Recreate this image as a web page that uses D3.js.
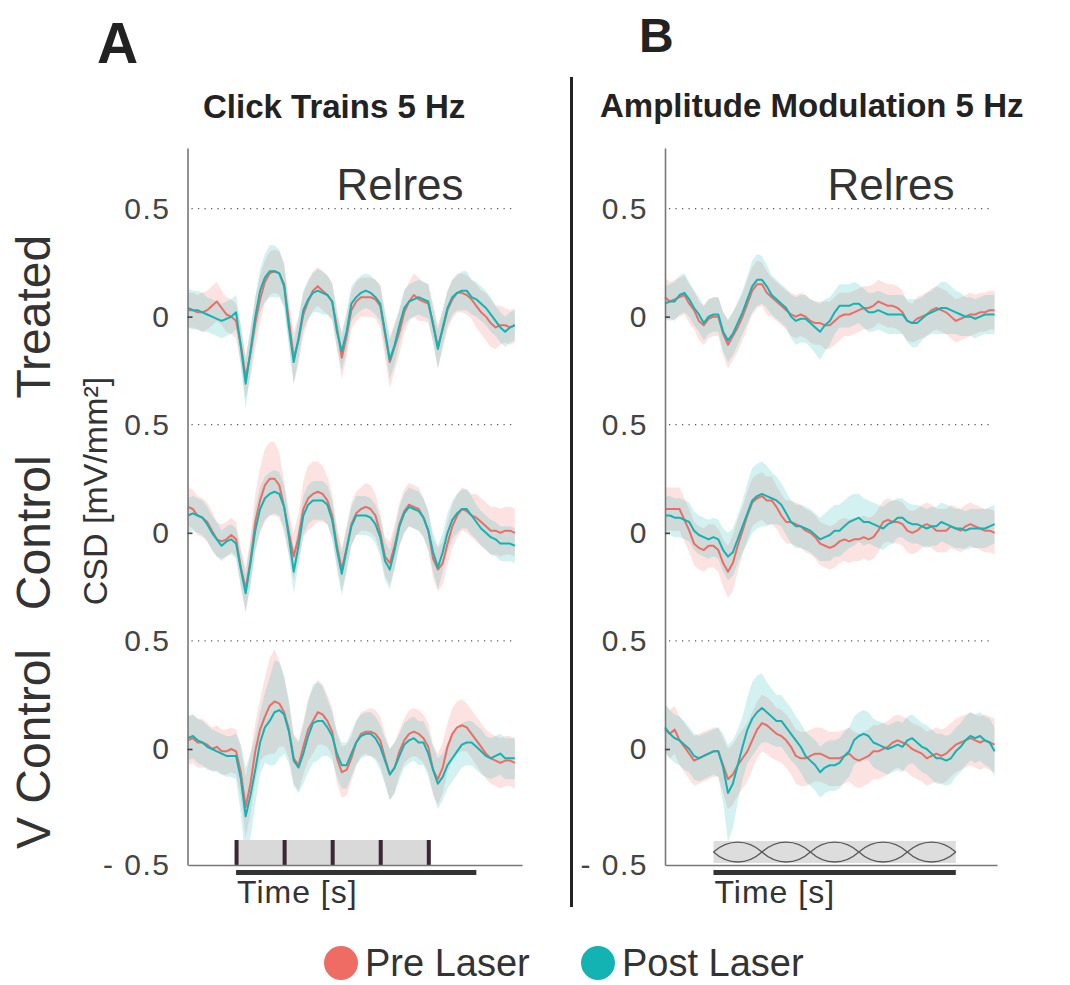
<!DOCTYPE html>
<html>
<head>
<meta charset="utf-8">
<script src="https://cdn.jsdelivr.net/npm/d3@7"></script>
<style>
  body { margin: 0; background: #fff; }
  svg { display: block; font-family: "Liberation Sans", Arial, sans-serif; }
</style>
</head>
<body>
<div id="chart"></div>
<script>
// Traces are sampled every 20 ms from -0.2 s to 1.16 s, values in 0.01 mV/mm²
const sampleStart = -0.2;
const sampleStep = 0.02;
const rowNames = ["Treated", "Control", "V Control"];
const clickTimes = [0, 0.2, 0.4, 0.6, 0.8];
const amCycleStarts = [0, 0.2, 0.4, 0.6, 0.8];
const amCycleLength = 0.2;
const stimulusEnd = 1.0;
const legendLabels = ["Pre Laser", "Post Laser"];

// Click trains 5 Hz
const clickTreatedPre = [3,3,2,2,3,5,7,4,1,0, -2,-13,-28,-17,-3,8,16,20,21,20, 15,-2,-19,-11,1,7,12,14,12,10, 7,-5,-19,-9,3,7,9,9,9,8, 5,-8,-21,-14,-7,2,7,10,8,7, 6,-3,-14,-6,3,8,11,11,10,8, 5,2,0,-3,-5,-4,-4,-5,-4];
const clickTreatedPost = [4,3,3,2,1,0,-1,-2,-1,0, 2,-14,-31,-16,0,12,18,21,21,20, 14,-5,-21,-10,3,8,11,12,11,10, 7,-7,-16,-7,6,9,11,12,11,9, 6,-7,-20,-13,-4,4,7,8,9,8, 7,-4,-15,-5,4,9,11,12,12,9, 8,6,4,1,-2,-5,-7,-5,-4];
const clickControlPre = [12,11,8,7,5,1,-3,-4,-3,-1, -3,-16,-26,-13,5,15,22,25,25,22, 12,0,-11,-2,11,16,18,19,18,15, 8,-6,-17,-7,4,9,11,12,11,8, 0,-11,-14,-6,4,10,13,12,11,7, 1,-12,-17,-14,-5,3,8,11,10,8, 7,5,3,1,1,0,1,1,0];
const clickControlPost = [8,9,8,7,4,0,-3,-6,-4,-3, -5,-17,-28,-14,1,11,16,18,19,18, 12,-2,-18,-6,8,13,15,15,15,13, 6,-8,-19,-8,3,8,8,8,7,4, -2,-13,-17,-8,3,9,12,11,10,7, 1,-9,-16,-9,0,6,9,11,11,8, 5,2,0,-2,-3,-5,-5,-5,-6];
const clickVControlPre = [4,5,3,3,2,0,1,-1,-1,0, -1,-10,-25,-15,-1,9,15,20,22,21, 17,9,-4,-7,1,9,13,17,16,13, 8,-4,-10,-9,-4,3,7,8,8,7, 4,-4,-11,-8,-1,4,7,8,7,5, 1,-9,-13,-8,1,7,10,11,10,7, 4,1,-2,-4,-5,-6,-5,-5,-6];
const clickVControlPost = [5,6,4,3,1,0,-1,-2,-3,-3, -3,-13,-29,-20,-9,3,10,13,17,18, 16,8,-5,-8,-2,6,12,13,13,10, 6,-2,-7,-7,-2,3,6,7,7,5, 1,-5,-11,-8,-3,2,4,5,3,3, -2,-9,-15,-12,-7,-4,-1,2,3,3, 1,-1,-3,-4,-3,-2,-4,-4,-4];

const clickTreatedPreErr = [8,8,8,9,9,9,9,8,8,8, 8,9,10,11,12,11,10,10,10,10, 10,10,12,11,10,9,9,9,9,9, 9,9,10,10,9,9,9,9,9,9, 10,11,12,11,10,10,9,10,10,9, 9,9,10,9,9,9,9,9,9,9, 10,10,11,11,10,9,8,8,8];
const clickTreatedPostErr = [9,9,9,9,8,8,8,8,8,8, 8,9,11,10,9,10,11,12,12,11, 10,9,10,9,9,9,9,10,10,9, 8,8,9,9,8,8,8,8,8,8, 8,8,9,9,8,8,8,8,8,8, 8,8,9,8,8,8,8,9,9,8, 8,8,8,8,7,7,7,7,7];
const clickControlPreErr = [9,9,9,9,9,9,8,8,8,8, 8,9,10,11,13,15,17,17,17,15, 12,10,11,11,13,15,15,14,13,11, 10,9,10,10,10,10,10,11,11,10, 9,9,10,10,10,10,10,10,10,9, 9,9,10,10,10,10,10,10,10,10, 11,11,11,11,11,11,11,11,11];
const clickControlPostErr = [8,8,8,8,8,8,8,7,7,7, 7,8,9,10,10,10,10,10,10,10, 10,9,10,9,9,9,9,9,9,9, 9,9,10,10,9,9,9,9,9,9, 9,9,9,9,9,9,9,9,9,9, 9,9,10,9,9,9,9,9,9,9, 8,8,8,8,8,8,8,8,8];
const clickVControlPreErr = [11,11,11,11,10,10,10,10,10,10, 10,11,13,13,13,14,18,22,24,20, 16,13,11,11,12,14,15,15,14,12, 11,11,11,11,10,10,10,10,11,11, 11,11,11,11,10,10,11,11,11,11, 11,11,11,11,11,12,12,12,11,11, 11,11,11,11,11,11,11,11,11];
const clickVControlPostErr = [10,10,10,10,10,9,9,9,9,9, 10,15,21,18,15,14,16,20,24,22, 18,14,11,11,13,16,18,18,16,13, 11,10,10,10,10,10,10,10,10,10, 10,10,11,11,10,10,10,10,10,10, 10,10,11,10,10,10,10,10,10,10, 10,10,9,9,9,9,9,9,9];

// Amplitude modulation 5 Hz
const amTreatedPre = [9,7,8,9,10,6,3,-2,-4,-1, 0,0,-8,-13,-9,-5,0,6,12,15, 15,11,9,7,5,3,1,0,1,0, -2,-3,-3,-4,-4,-2,0,1,1,2, 3,4,4,5,7,6,5,5,4,2, -2,-3,-1,0,1,3,4,3,2,0, -2,-1,0,1,1,2,2,3,3];
const amTreatedPost = [6,7,7,10,11,8,4,1,-3,0, 1,1,-7,-11,-8,-3,2,8,14,17, 17,14,10,8,6,4,0,-2,-1,-1, -3,-5,-7,-4,-2,2,5,5,5,6, 6,4,2,2,3,2,1,1,1,1, -2,-3,-3,-1,1,2,3,4,4,3, 2,1,0,0,-1,0,1,1,1];
const amControlPre = [11,11,11,11,6,1,-5,-7,-8,-6, -6,-8,-14,-18,-14,-6,1,8,14,16, 17,15,15,12,8,5,5,4,3,1, 0,-2,-5,-6,-7,-6,-4,-3,-4,-3, -3,-2,-3,-2,1,5,6,5,5,4, 1,0,1,3,4,3,1,1,1,3, 2,1,3,4,3,2,1,1,0];
const amControlPost = [8,8,7,7,6,5,1,-1,-2,-3, -2,-3,-8,-11,-9,-3,3,9,15,17, 18,17,16,15,13,9,5,3,3,2, 1,-1,-3,-2,-1,1,1,3,5,6, 7,5,5,4,3,2,4,5,7,7, 5,4,4,3,2,3,3,5,4,3, 2,2,1,2,2,2,2,3,4];
const amVControlPre = [9,7,9,4,1,-2,-5,-4,-3,-2, -1,-1,-7,-13,-11,-7,-4,-1,4,9, 12,11,9,7,6,4,1,-3,-4,-4, -3,-2,-2,-3,-4,-4,-4,-3,-2,-4, -5,-4,-3,-1,-1,0,1,3,4,3, 2,0,-1,-2,-4,-3,-2,-3,-2,0, 2,3,4,5,4,3,4,3,2];
const amVControlPost = [10,7,5,4,2,0,-3,-4,-3,-2, -1,-1,-8,-19,-15,-7,1,9,14,17, 19,17,15,13,13,10,7,4,1,-3, -5,-7,-10,-8,-7,-7,-6,-3,-1,4, 6,7,6,3,2,1,0,1,2,1, 4,5,3,1,0,-2,-4,-4,-5,-4, -1,1,4,6,5,6,4,3,-1];

const amTreatedPreErr = [9,9,9,9,9,9,9,9,9,9, 9,9,10,11,11,11,11,11,11,11, 10,10,9,9,9,9,10,10,10,10, 10,10,10,11,11,11,11,10,10,10, 10,10,10,10,10,10,10,10,10,10, 9,9,10,10,10,10,10,10,10,10, 10,10,10,10,9,9,9,9,9];
const amTreatedPostErr = [8,8,9,9,9,8,8,8,8,8, 8,8,9,10,10,10,10,11,12,12, 11,10,9,9,9,9,10,11,11,11, 11,12,13,12,11,10,10,10,10,10, 9,9,9,9,9,9,9,9,9,9, 10,11,11,10,10,10,11,12,12,11, 10,10,9,9,9,9,9,9,9];
const amControlPreErr = [10,10,10,10,10,10,10,10,10,10, 10,10,11,12,13,12,11,11,11,11, 11,11,11,10,10,10,10,10,10,10, 10,10,10,10,10,10,10,10,10,10, 10,10,10,10,10,10,10,10,10,10, 10,10,10,10,10,10,10,10,10,10, 10,10,10,10,10,10,10,10,10];
const amControlPostErr = [9,9,9,9,9,9,9,9,9,9, 9,9,10,11,11,11,12,14,15,15, 15,14,12,11,10,10,10,10,10,10, 10,10,10,11,12,12,12,12,12,12, 11,11,10,10,10,10,10,10,9,9, 9,9,9,9,9,9,9,9,9,9, 9,9,9,9,9,9,9,9,9];
const amVControlPreErr = [11,11,11,11,11,11,11,11,11,11, 11,11,12,13,13,13,13,13,13,13, 13,13,13,12,12,12,12,12,12,12, 12,12,12,12,12,12,12,12,12,12, 12,12,12,12,12,12,12,12,12,12, 12,12,12,12,12,12,12,12,12,12, 12,12,12,12,12,12,12,12,12];
const amVControlPostErr = [11,11,11,11,11,10,10,10,10,10, 10,11,15,21,19,16,14,15,17,17, 16,14,13,12,12,12,12,11,11,11, 11,11,11,11,11,11,11,11,11,11, 11,11,11,11,11,11,11,11,11,11, 11,11,11,11,11,11,11,11,11,11, 11,11,11,11,11,11,11,11,11];

const preColor = "#ee6c63";
const postColor = "#13b2b3";

const svg = d3.select("#chart")
  .append("svg")
  .attr("width", 1070)
  .attr("height", 985);

svg.append("rect").attr("width", 1070).attr("height", 985).attr("fill", "#fff");

// One shared y scale; each row is stacked one unit above the next
const y = d3.scaleLinear()
  .domain([-0.5, 0, 2.78])
  .range([865, 749, 148]);
const yTicks = [-0.5, 0, 0.5, 1, 1.5, 2, 2.5];
const yTickLabel = v => v === -0.5 ? "- 0.5" : (v % 1 === 0.5 ? "0.5" : "0");

const panels = [
  {
    x: d3.scaleLinear().domain([-0.2, 1.19]).range([188, 522]),
    axisX: 187.5, dotEnd: 515, kind: "click",
    rows: [
      [clickTreatedPre, clickTreatedPreErr, clickTreatedPost, clickTreatedPostErr],
      [clickControlPre, clickControlPreErr, clickControlPost, clickControlPostErr],
      [clickVControlPre, clickVControlPreErr, clickVControlPost, clickVControlPostErr]
    ],
    relresX: 400
  },
  {
    x: d3.scaleLinear().domain([-0.2, 1.17]).range([665, 997]),
    axisX: 665, dotEnd: 992, kind: "am",
    rows: [
      [amTreatedPre, amTreatedPreErr, amTreatedPost, amTreatedPostErr],
      [amControlPre, amControlPreErr, amControlPost, amControlPostErr],
      [amVControlPre, amVControlPreErr, amVControlPost, amVControlPostErr]
    ],
    relresX: 891
  }
];

const sampleTime = i => sampleStart + i * sampleStep;

panels.forEach(function (p) {
  const g = svg.append("g");

  // dotted guides at the 0.5 level of each row
  g.selectAll(".guide")
    .data([2.5, 1.5, 0.5])
    .enter()
    .append("line")
    .attr("x1", p.axisX + 4)
    .attr("x2", p.dotEnd)
    .attr("y1", d => y(d))
    .attr("y2", d => y(d))
    .attr("stroke", "#555")
    .attr("stroke-width", 1.2)
    .attr("stroke-dasharray", "1.2,5.3");

  // traces
  p.rows.forEach(function (r, ri) {
    const off = 2 - ri;
    const series = [
      { mean: r[0], err: r[1], color: preColor },
      { mean: r[2], err: r[3], color: postColor }
    ];
    series.forEach(function (s) {
      const area = d3.area()
        .x((d, i) => p.x(sampleTime(i)))
        .y0((d, i) => y(off + (d - s.err[i]) / 100))
        .y1((d, i) => y(off + (d + s.err[i]) / 100));
      g.append("path")
        .datum(s.mean)
        .attr("d", area)
        .attr("fill", s.color)
        .attr("fill-opacity", 0.19);
    });
    series.forEach(function (s) {
      const line = d3.line()
        .x((d, i) => p.x(sampleTime(i)))
        .y(d => y(off + d / 100));
      g.append("path")
        .datum(s.mean)
        .attr("d", line)
        .attr("fill", "none")
        .attr("stroke", s.color)
        .attr("stroke-width", 2)
        .attr("stroke-linejoin", "round");
    });
  });

  // stimulus icon
  const x0 = p.x(0), x1 = p.x(stimulusEnd);
  if (p.kind === "click") {
    const lastClick = clickTimes[clickTimes.length - 1];
    g.append("rect")
      .attr("x", x0)
      .attr("y", 840)
      .attr("width", p.x(lastClick) - x0 + 2)
      .attr("height", 25)
      .attr("fill", "#d9d9d9");
    g.selectAll(".click")
      .data(clickTimes)
      .enter()
      .append("rect")
      .attr("x", d => p.x(d) - 1.5)
      .attr("y", 840)
      .attr("width", 4)
      .attr("height", 25)
      .attr("fill", "#3c2535");
  } else {
    g.append("rect")
      .attr("x", x0)
      .attr("y", 841)
      .attr("width", x1 - x0)
      .attr("height", 22)
      .attr("fill", "#dddddd");
    const cy = 852, a = 10;
    amCycleStarts.forEach(function (c) {
      const xa = p.x(c), xb = p.x(c + amCycleLength), w = xb - xa;
      [-1, 1].forEach(function (sgn) {
        const path = d3.path();
        path.moveTo(xa, cy);
        path.bezierCurveTo(xa + w * 0.3, cy + sgn * a * 1.33, xb - w * 0.3, cy + sgn * a * 1.33, xb, cy);
        g.append("path")
          .attr("d", path.toString())
          .attr("fill", "none")
          .attr("stroke", "#5a5a5a")
          .attr("stroke-width", 1.3);
      });
    });
  }
  g.append("line")
    .attr("x1", x0).attr("x2", x1)
    .attr("y1", 872.5).attr("y2", 872.5)
    .attr("stroke", "#333")
    .attr("stroke-width", 5);

  // axes
  const yAxis = g.append("g")
    .attr("transform", "translate(" + p.axisX + ",0)")
    .call(d3.axisLeft(y).tickValues(yTicks).tickFormat(yTickLabel)
      .tickSize(-5).tickSizeOuter(0).tickPadding(17));
  yAxis.select(".domain").attr("stroke", "#777").attr("stroke-width", 1.6);
  yAxis.selectAll(".tick line")
    .attr("stroke", "#444")
    .attr("stroke-width", 1.6)
    .attr("opacity", d => (d % 1 === 0 ? 1 : 0));
  yAxis.selectAll(".tick text")
    .attr("font-size", 30)
    .attr("fill", "#444")
    .attr("letter-spacing", 1.5)
    .attr("font-family", "'Liberation Sans', Arial, sans-serif");

  const xAxis = g.append("g")
    .attr("transform", "translate(0,865)")
    .call(d3.axisBottom(p.x).tickValues([]).tickSizeOuter(0));
  xAxis.select(".domain").attr("stroke", "#777").attr("stroke-width", 1.6);

  g.append("text")
    .attr("x", x0 + 1)
    .attr("y", 903)
    .attr("font-size", 32)
    .attr("letter-spacing", 1)
    .attr("fill", "#333")
    .text("Time [s]");

  g.append("text")
    .attr("x", p.relresX)
    .attr("y", 200)
    .attr("text-anchor", "middle")
    .attr("font-size", 44)
    .attr("fill", "#333")
    .text("Relres");
});

// panel letters and titles
svg.append("text").attr("x", 97).attr("y", 63).attr("font-size", 57).attr("font-weight", "bold")
  .attr("fill", "#222").text("A");
svg.append("text").attr("x", 639).attr("y", 52).attr("font-size", 48).attr("font-weight", "bold")
  .attr("fill", "#222").text("B");
svg.append("text").attr("x", 203).attr("y", 118).attr("font-size", 33).attr("font-weight", "bold")
  .attr("fill", "#222").text("Click Trains 5 Hz");
svg.append("text").attr("x", 600).attr("y", 117).attr("font-size", 33).attr("font-weight", "bold")
  .attr("fill", "#222").text("Amplitude Modulation 5 Hz");

// separator between panels
svg.append("line")
  .attr("x1", 571.5).attr("x2", 571.5)
  .attr("y1", 77).attr("y2", 907)
  .attr("stroke", "#222")
  .attr("stroke-width", 3);

// row labels
svg.selectAll(".rowlabel")
  .data(rowNames)
  .enter()
  .append("text")
  .attr("transform", (d, i) => "translate(50," + y(2 - i) + ") rotate(-90)")
  .attr("text-anchor", "middle")
  .attr("font-size", 48)
  .attr("fill", "#333")
  .text(d => d);

svg.append("text")
  .attr("transform", "translate(107,491) rotate(-90)")
  .attr("text-anchor", "middle")
  .attr("font-size", 34)
  .attr("fill", "#333")
  .text("CSD [mV/mm²]");

// legend
const legend = svg.append("g").attr("class", "legend");
const legendItem = legend.selectAll(".legend-item")
  .data([preColor, postColor])
  .enter()
  .append("g")
  .attr("class", "legend-item")
  .attr("transform", (d, i) => "translate(" + (i === 0 ? 341 : 598) + ",963)");
legendItem.append("circle")
  .attr("r", 17)
  .attr("fill", d => d);
legendItem.append("text")
  .attr("x", 24)
  .attr("y", 13)
  .attr("font-size", 38)
  .attr("fill", "#333")
  .text((d, i) => legendLabels[i]);
</script>
</body>
</html>
